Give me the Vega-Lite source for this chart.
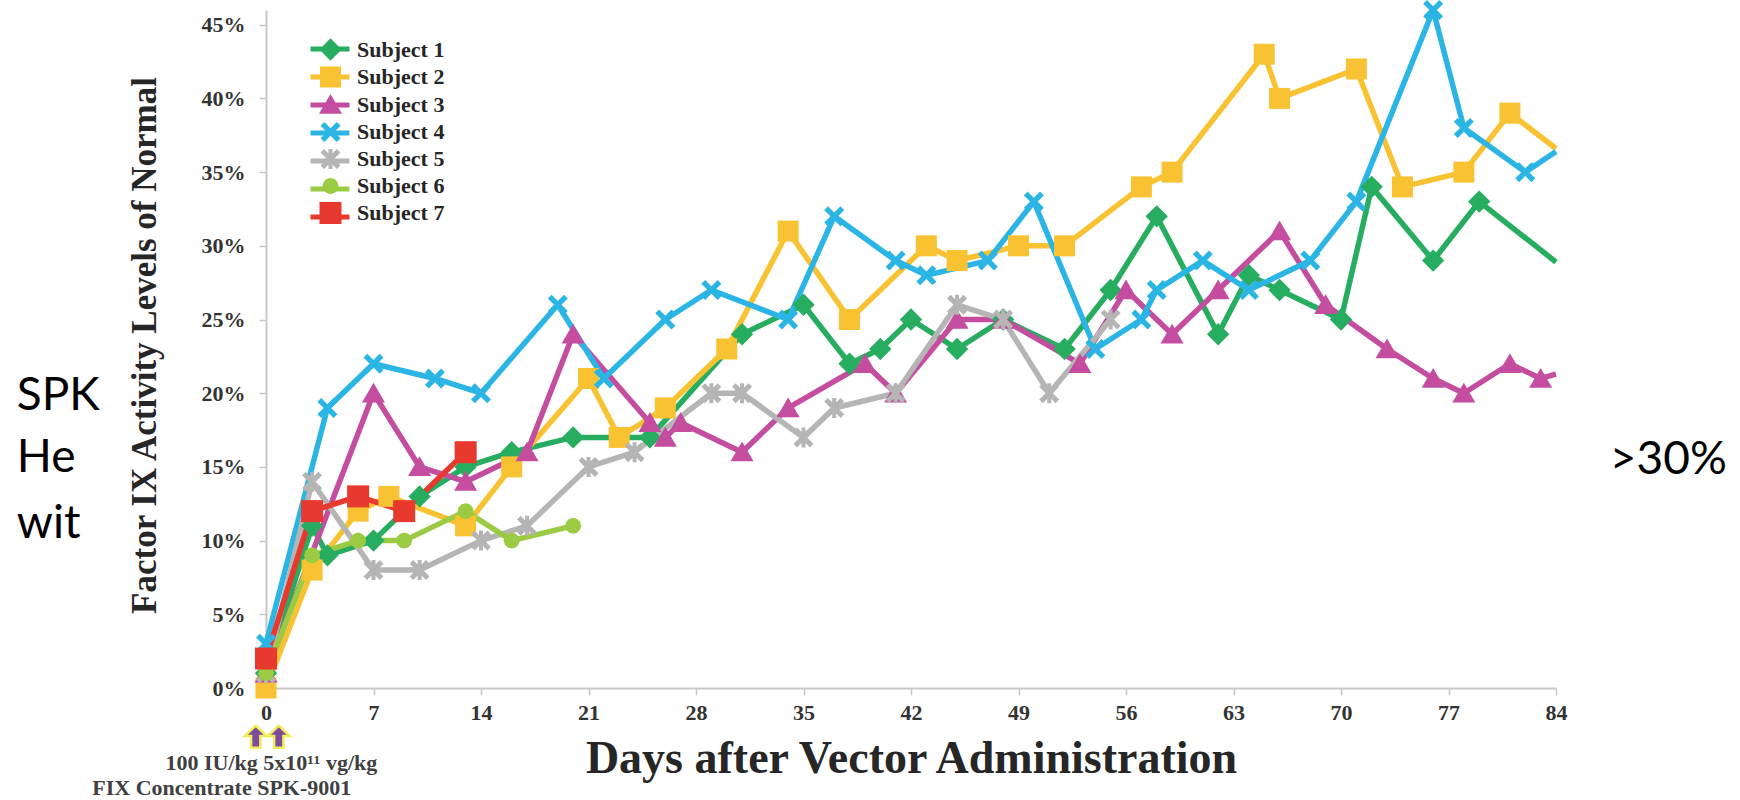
{
  "$schema": "https://vega.github.io/schema/vega-lite/v6.json",
  "width": 1290,
  "height": 678,
  "autosize": {"type": "none"},
  "padding": {"left": 266, "top": 10, "right": 184, "bottom": 112},
  "background": "#ffffff",
  "config": {
    "view": {"stroke": null},
    "axis": {
      "labelFont": "Liberation Serif", "labelFontWeight": "bold", "labelColor": "#333333",
      "titleFont": "Liberation Serif", "titleFontWeight": "bold", "titleColor": "#262626",
      "domainColor": "#c8c8c8", "domainWidth": 2, "tickColor": "#c8c8c8", "tickWidth": 1.5, "tickSize": 7,
      "grid": false, "labelFlush": false, "labelOverlap": false
    }
  },
  "datasets": {
    "series": [
      {"subject": "Subject 1", "day": 0, "value": 1}, {"subject": "Subject 1", "day": 3, "value": 11}, {"subject": "Subject 1", "day": 4, "value": 9}, {"subject": "Subject 1", "day": 7, "value": 10}, {"subject": "Subject 1", "day": 10, "value": 13}, {"subject": "Subject 1", "day": 13, "value": 15}, {"subject": "Subject 1", "day": 16, "value": 16}, {"subject": "Subject 1", "day": 20, "value": 17}, {"subject": "Subject 1", "day": 25, "value": 17}, {"subject": "Subject 1", "day": 31, "value": 24}, {"subject": "Subject 1", "day": 35, "value": 26}, {"subject": "Subject 1", "day": 38, "value": 22}, {"subject": "Subject 1", "day": 40, "value": 23}, {"subject": "Subject 1", "day": 42, "value": 25}, {"subject": "Subject 1", "day": 45, "value": 23}, {"subject": "Subject 1", "day": 48, "value": 25}, {"subject": "Subject 1", "day": 52, "value": 23}, {"subject": "Subject 1", "day": 55, "value": 27}, {"subject": "Subject 1", "day": 58, "value": 32}, {"subject": "Subject 1", "day": 62, "value": 24}, {"subject": "Subject 1", "day": 64, "value": 28}, {"subject": "Subject 1", "day": 66, "value": 27}, {"subject": "Subject 1", "day": 70, "value": 25}, {"subject": "Subject 1", "day": 72, "value": 34}, {"subject": "Subject 1", "day": 76, "value": 29}, {"subject": "Subject 1", "day": 79, "value": 33}, {"subject": "Subject 1", "day": 84, "value": 28.9},
      {"subject": "Subject 2", "day": 0, "value": 0}, {"subject": "Subject 2", "day": 3, "value": 8}, {"subject": "Subject 2", "day": 6, "value": 12}, {"subject": "Subject 2", "day": 8, "value": 13}, {"subject": "Subject 2", "day": 13, "value": 11}, {"subject": "Subject 2", "day": 16, "value": 15}, {"subject": "Subject 2", "day": 21, "value": 21}, {"subject": "Subject 2", "day": 23, "value": 17}, {"subject": "Subject 2", "day": 26, "value": 19}, {"subject": "Subject 2", "day": 30, "value": 23}, {"subject": "Subject 2", "day": 34, "value": 31}, {"subject": "Subject 2", "day": 38, "value": 25}, {"subject": "Subject 2", "day": 43, "value": 30}, {"subject": "Subject 2", "day": 45, "value": 29}, {"subject": "Subject 2", "day": 49, "value": 30}, {"subject": "Subject 2", "day": 52, "value": 30}, {"subject": "Subject 2", "day": 57, "value": 34}, {"subject": "Subject 2", "day": 59, "value": 35}, {"subject": "Subject 2", "day": 65, "value": 43}, {"subject": "Subject 2", "day": 66, "value": 40}, {"subject": "Subject 2", "day": 71, "value": 42}, {"subject": "Subject 2", "day": 74, "value": 34}, {"subject": "Subject 2", "day": 78, "value": 35}, {"subject": "Subject 2", "day": 81, "value": 39}, {"subject": "Subject 2", "day": 84, "value": 36.6},
      {"subject": "Subject 3", "day": 0, "value": 1}, {"subject": "Subject 3", "day": 7, "value": 20}, {"subject": "Subject 3", "day": 10, "value": 15}, {"subject": "Subject 3", "day": 13, "value": 14}, {"subject": "Subject 3", "day": 17, "value": 16}, {"subject": "Subject 3", "day": 20, "value": 24}, {"subject": "Subject 3", "day": 25, "value": 18}, {"subject": "Subject 3", "day": 26, "value": 17}, {"subject": "Subject 3", "day": 27, "value": 18}, {"subject": "Subject 3", "day": 31, "value": 16}, {"subject": "Subject 3", "day": 34, "value": 19}, {"subject": "Subject 3", "day": 39, "value": 22}, {"subject": "Subject 3", "day": 41, "value": 20}, {"subject": "Subject 3", "day": 45, "value": 25}, {"subject": "Subject 3", "day": 48, "value": 25}, {"subject": "Subject 3", "day": 53, "value": 22}, {"subject": "Subject 3", "day": 56, "value": 27}, {"subject": "Subject 3", "day": 59, "value": 24}, {"subject": "Subject 3", "day": 62, "value": 27}, {"subject": "Subject 3", "day": 66, "value": 31}, {"subject": "Subject 3", "day": 69, "value": 26}, {"subject": "Subject 3", "day": 73, "value": 23}, {"subject": "Subject 3", "day": 76, "value": 21}, {"subject": "Subject 3", "day": 78, "value": 20}, {"subject": "Subject 3", "day": 81, "value": 22}, {"subject": "Subject 3", "day": 83, "value": 21}, {"subject": "Subject 3", "day": 84, "value": 21.3},
      {"subject": "Subject 4", "day": 0, "value": 3}, {"subject": "Subject 4", "day": 4, "value": 19}, {"subject": "Subject 4", "day": 7, "value": 22}, {"subject": "Subject 4", "day": 11, "value": 21}, {"subject": "Subject 4", "day": 14, "value": 20}, {"subject": "Subject 4", "day": 19, "value": 26}, {"subject": "Subject 4", "day": 22, "value": 21}, {"subject": "Subject 4", "day": 26, "value": 25}, {"subject": "Subject 4", "day": 29, "value": 27}, {"subject": "Subject 4", "day": 34, "value": 25}, {"subject": "Subject 4", "day": 37, "value": 32}, {"subject": "Subject 4", "day": 41, "value": 29}, {"subject": "Subject 4", "day": 43, "value": 28}, {"subject": "Subject 4", "day": 47, "value": 29}, {"subject": "Subject 4", "day": 50, "value": 33}, {"subject": "Subject 4", "day": 54, "value": 23}, {"subject": "Subject 4", "day": 57, "value": 25}, {"subject": "Subject 4", "day": 58, "value": 27}, {"subject": "Subject 4", "day": 61, "value": 29}, {"subject": "Subject 4", "day": 64, "value": 27}, {"subject": "Subject 4", "day": 68, "value": 29}, {"subject": "Subject 4", "day": 71, "value": 33}, {"subject": "Subject 4", "day": 76, "value": 46}, {"subject": "Subject 4", "day": 78, "value": 38}, {"subject": "Subject 4", "day": 82, "value": 35}, {"subject": "Subject 4", "day": 84, "value": 36.4},
      {"subject": "Subject 5", "day": 0, "value": 1}, {"subject": "Subject 5", "day": 3, "value": 14}, {"subject": "Subject 5", "day": 7, "value": 8}, {"subject": "Subject 5", "day": 10, "value": 8}, {"subject": "Subject 5", "day": 14, "value": 10}, {"subject": "Subject 5", "day": 17, "value": 11}, {"subject": "Subject 5", "day": 21, "value": 15}, {"subject": "Subject 5", "day": 24, "value": 16}, {"subject": "Subject 5", "day": 29, "value": 20}, {"subject": "Subject 5", "day": 31, "value": 20}, {"subject": "Subject 5", "day": 35, "value": 17}, {"subject": "Subject 5", "day": 37, "value": 19}, {"subject": "Subject 5", "day": 41, "value": 20}, {"subject": "Subject 5", "day": 45, "value": 26}, {"subject": "Subject 5", "day": 48, "value": 25}, {"subject": "Subject 5", "day": 51, "value": 20}, {"subject": "Subject 5", "day": 55, "value": 25},
      {"subject": "Subject 6", "day": 0, "value": 1}, {"subject": "Subject 6", "day": 3, "value": 9}, {"subject": "Subject 6", "day": 6, "value": 10}, {"subject": "Subject 6", "day": 9, "value": 10}, {"subject": "Subject 6", "day": 13, "value": 12}, {"subject": "Subject 6", "day": 16, "value": 10}, {"subject": "Subject 6", "day": 20, "value": 11},
      {"subject": "Subject 7", "day": 0, "value": 2}, {"subject": "Subject 7", "day": 3, "value": 12}, {"subject": "Subject 7", "day": 6, "value": 13}, {"subject": "Subject 7", "day": 9, "value": 12}, {"subject": "Subject 7", "day": 13, "value": 16}
    ],
    "arrows": [{"day": -0.67, "value": -3.3}, {"day": 0.83, "value": -3.3}],
    "dose": [
      {"day": 0.35, "value": -5.56, "label": "100 IU/kg 5x10¹¹ vg/kg"},
      {"day": -2.88, "value": -7.26, "label": "FIX Concentrate SPK-9001"}
    ],
    "slideLeft": [
      {"day": -16.23, "value": 18.86, "label": "SPK"},
      {"day": -16.23, "value": 14.65, "label": "He"},
      {"day": -16.23, "value": 10.18, "label": "wit"}
    ],
    "slideRight": [{"day": 95.12, "value": 14.52, "label": ">30%"}]
  },
  "encoding": {
    "x": {
      "field": "day", "type": "quantitative",
      "scale": {"domain": [0, 84], "nice": false, "zero": false},
      "axis": {
        "values": [0, 7, 14, 21, 28, 35, 42, 49, 56, 63, 70, 77, 84],
        "title": "Days after Vector Administration", "titleFontSize": 46,
        "titleX": 645, "titleY": 84, "titleAlign": "center", "titleBaseline": "alphabetic",
        "labelFontSize": 22, "labelPadding": 7
      }
    },
    "y": {
      "field": "value", "type": "quantitative",
      "scale": {"domain": [0, 46], "nice": false},
      "axis": {
        "values": [0, 5, 10, 15, 20, 25, 30, 35, 40, 45],
        "labelExpr": "datum.value + '%'",
        "title": "Factor IX Activity Levels of Normal", "titleFontSize": 35,
        "titleAngle": 270, "titleX": -111, "titleY": 335, "titleAlign": "center", "titleBaseline": "alphabetic",
        "labelFontSize": 22, "labelPadding": 14
      }
    }
  },
  "layer": [
    {
      "data": {"name": "series"},
      "mark": {"type": "line", "strokeWidth": 5.5, "strokeJoin": "round"},
      "encoding": {
        "stroke": {
          "field": "subject", "type": "nominal",
          "scale": {"range": ["#27AD5F", "#F9C232", "#C44DA0", "#2BB5E5", "#B5B5B5", "#9ACB42", "#E8392F"]},
          "legend": {
            "orient": "none", "legendX": 52, "legendY": 27, "title": null, "padding": 0,
            "symbolType": "M-2.05,0L2.05,0", "symbolSize": 361, "symbolStrokeWidth": 5, "symbolFillColor": "transparent",
            "labelFont": "Liberation Serif", "labelFontWeight": "bold", "labelFontSize": 22,
            "labelExpr": "''", "labelOffset": 15, "rowPadding": 5
          }
        }
      }
    },
    {
      "data": {"name": "series"},
      "transform": [{"filter": "datum.day < 84"}],
      "mark": {"type": "point", "filled": true, "opacity": 1},
      "encoding": {
        "color": {
          "field": "subject", "type": "nominal",
          "scale": {"domain": ["Subject 1", "Subject 2", "Subject 3", "Subject 4", "Subject 5", "Subject 6", "Subject 7"],
                    "range": ["#27AD5F", "#F9C232", "#C44DA0", "#2BB5E5", "#B5B5B5", "#9ACB42", "#E8392F"]},
          "legend": {
            "orient": "none", "legendX": 53, "legendY": 28, "title": null, "padding": 0,
            "labelFont": "Liberation Serif", "labelFontWeight": "bold", "labelFontSize": 22, "labelColor": "#262626",
            "labelOffset": 15, "rowPadding": 5, "symbolSize": 361, "symbolStrokeWidth": 0
          }
        },
        "shape": {
          "field": "subject", "type": "nominal",
          "scale": {"domain": ["Subject 1", "Subject 2", "Subject 3", "Subject 4", "Subject 5", "Subject 6", "Subject 7"],
                    "range": [
                      "M0,-1L1,0L0,1L-1,0Z",
                      "M-1,-1L1,-1L1,1L-1,1Z",
                      "M0,-0.92L1,0.8L-1,0.8Z",
                      "M-0.62,-1L0,-0.38L0.62,-1L1,-0.62L0.38,0L1,0.62L0.62,1L0,0.38L-0.62,1L-1,0.62L-0.38,0L-1,-0.62Z",
                      "M-0.64,-1L0,-0.36L0.64,-1L1,-0.64L0.36,0L1,0.64L0.64,1L0,0.36L-0.64,1L-1,0.64L-0.36,0L-1,-0.64Z M-0.2,-1L0.2,-1L0.2,1L-0.2,1Z",
                      "M0,-1L0.5,-0.866L0.866,-0.5L1,0L0.866,0.5L0.5,0.866L0,1L-0.5,0.866L-0.866,0.5L-1,0L-0.866,-0.5L-0.5,-0.866Z",
                      "M-1,-1L1,-1L1,1L-1,1Z"
                    ]},
          "legend": null
        },
        "size": {
          "field": "subject", "type": "nominal",
          "scale": {"type": "ordinal", "domain": ["Subject 1", "Subject 2", "Subject 3", "Subject 4", "Subject 5", "Subject 6", "Subject 7"],
                    "range": [500, 441, 529, 400, 400, 256, 484]},
          "legend": null
        }
      }
    },
    {
      "data": {"name": "arrows"},
      "mark": {"type": "point", "filled": true, "opacity": 1,
               "shape": "M0,-1L1,-0.05L0.42,-0.05L0.42,1L-0.42,1L-0.42,-0.05L-1,-0.05Z",
               "size": 484, "fill": "#7B4C9C", "stroke": "#F3EC5A", "strokeWidth": 2.5}
    },
    {
      "data": {"name": "dose"},
      "mark": {"type": "text", "font": "Liberation Serif", "fontWeight": "bold", "fontSize": 22,
               "color": "#404040", "align": "center", "baseline": "alphabetic"},
      "encoding": {"text": {"field": "label"}}
    },
    {
      "data": {"name": "slideLeft"},
      "mark": {"type": "text", "font": "Lato", "fontSize": 46, "color": "#000000", "align": "left", "baseline": "alphabetic"},
      "encoding": {"text": {"field": "label"}}
    },
    {
      "data": {"name": "slideRight"},
      "mark": {"type": "text", "font": "Lato", "fontSize": 46, "color": "#000000", "align": "right", "baseline": "alphabetic"},
      "encoding": {"text": {"field": "label"}}
    }
  ]
}
